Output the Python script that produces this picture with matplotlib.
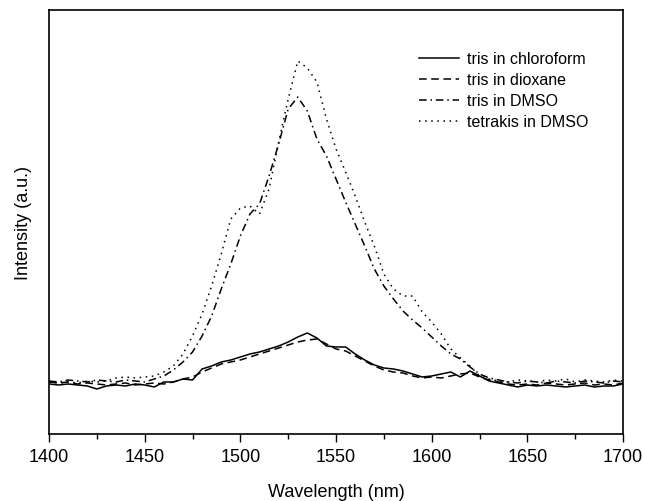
import matplotlib
matplotlib.use('Agg')
import matplotlib.pyplot as plt
from matplotlib.ticker import MultipleLocator
import numpy as np

plt.rcParams['font.family'] = ['Liberation Sans', 'DejaVu Sans']

""" --- data (read off the picture) --- """
wavelength = list(range(1400, 1701, 5))

tris_chloroform = [50, 49, 50, 49, 48, 45, 48, 49, 48, 50,
                   49, 47, 52, 52, 55, 54, 65, 68, 72, 74,
                   77, 80, 82, 85, 88, 92, 97, 101, 96, 88,
                   87, 87, 80, 74, 69, 66, 65, 63, 60, 57,
                   58, 60, 62, 57, 63, 58, 53, 51, 49, 47,
                   49, 48, 49, 48, 47, 48, 49, 47, 48, 48,
                   50]

tris_dioxane = [52, 51, 52, 50, 51, 50, 49, 50, 51, 49,
                50, 51, 50, 52, 55, 57, 62, 66, 70, 72,
                74, 77, 80, 83, 86, 89, 92, 94, 95, 90,
                85, 83, 78, 73, 68, 64, 62, 61, 58, 56,
                57, 56, 58, 60, 61, 57, 54, 52, 50, 49,
                50, 49, 51, 50, 49, 50, 51, 49, 50, 49,
                51]

tris_dmso = [53, 52, 54, 53, 52, 54, 53, 52, 54, 53,
             52, 55, 58, 64, 72, 82, 98, 118, 145, 170,
             198, 220, 230, 258, 290, 325, 337, 323, 295, 278,
             255, 232, 210, 188, 165, 148, 135, 123, 114, 106,
             97, 88, 80, 75, 67, 60, 56, 54, 52, 51,
             53, 52, 51, 53, 52, 51, 53, 52, 51, 53,
             52]

tetrakis_dmso = [52, 51, 52, 51, 53, 52, 53, 56, 57, 56,
                 57, 58, 62, 68, 80, 98, 120, 148, 180, 215,
                 226, 228, 220, 245, 292, 335, 373, 366, 352, 315,
                 285, 262, 238, 212, 188, 160, 145, 138, 138, 122,
                 112, 100, 85, 76, 68, 58, 55, 53, 52, 54,
                 53, 52, 54, 53, 55, 52, 54, 53, 52, 54,
                 53]

labels = ['tris in chloroform', 'tris in dioxane', 'tris in DMSO', 'tetrakis in DMSO']


def main_plot():
    fig = plt.figure(figsize=(6.45, 5.02), dpi=100)
    ax = fig.add_axes([0.076, 0.1335, 0.890, 0.8445])

    lw = 1.1
    ax.plot(wavelength, tris_chloroform, color='black', lw=lw, linestyle='-', label=labels[0])
    ax.plot(wavelength, tris_dioxane, color='black', lw=lw, linestyle=(0, (5, 3)), label=labels[1])
    ax.plot(wavelength, tris_dmso, color='black', lw=lw, linestyle=(0, (5, 2.5, 1, 2.5)), label=labels[2])
    ax.plot(wavelength, tetrakis_dmso, color='black', lw=lw, linestyle=(0, (1, 3)), label=labels[3])

    ax.set_xlim(1400, 1700)
    ax.set_ylim(0, 424)
    ax.xaxis.set_major_locator(MultipleLocator(50))
    ax.xaxis.set_minor_locator(MultipleLocator(25))
    ax.tick_params(axis='x', which='major', direction='out', length=6, width=1.0,
                   labelsize=13, pad=4)
    ax.tick_params(axis='x', which='minor', direction='out', length=3.5, width=1.0)
    ax.tick_params(axis='y', which='both', left=False, labelleft=False)
    for sp in ax.spines.values():
        sp.set_linewidth(1.2)

    ax.set_xlabel('Wavelength (nm)', fontsize=13, labelpad=13)
    ax.set_ylabel('Intensity (a.u.)', fontsize=13, labelpad=12)

    ax.legend(loc='upper left', bbox_to_anchor=(0.644, 0.903), frameon=False,
              fontsize=11.5, handlelength=2.5, handletextpad=0.55,
              labelspacing=0.38, borderpad=0, borderaxespad=0)

    fig.savefig('out.png', dpi=100)


if __name__ == '__main__':
    main_plot()
